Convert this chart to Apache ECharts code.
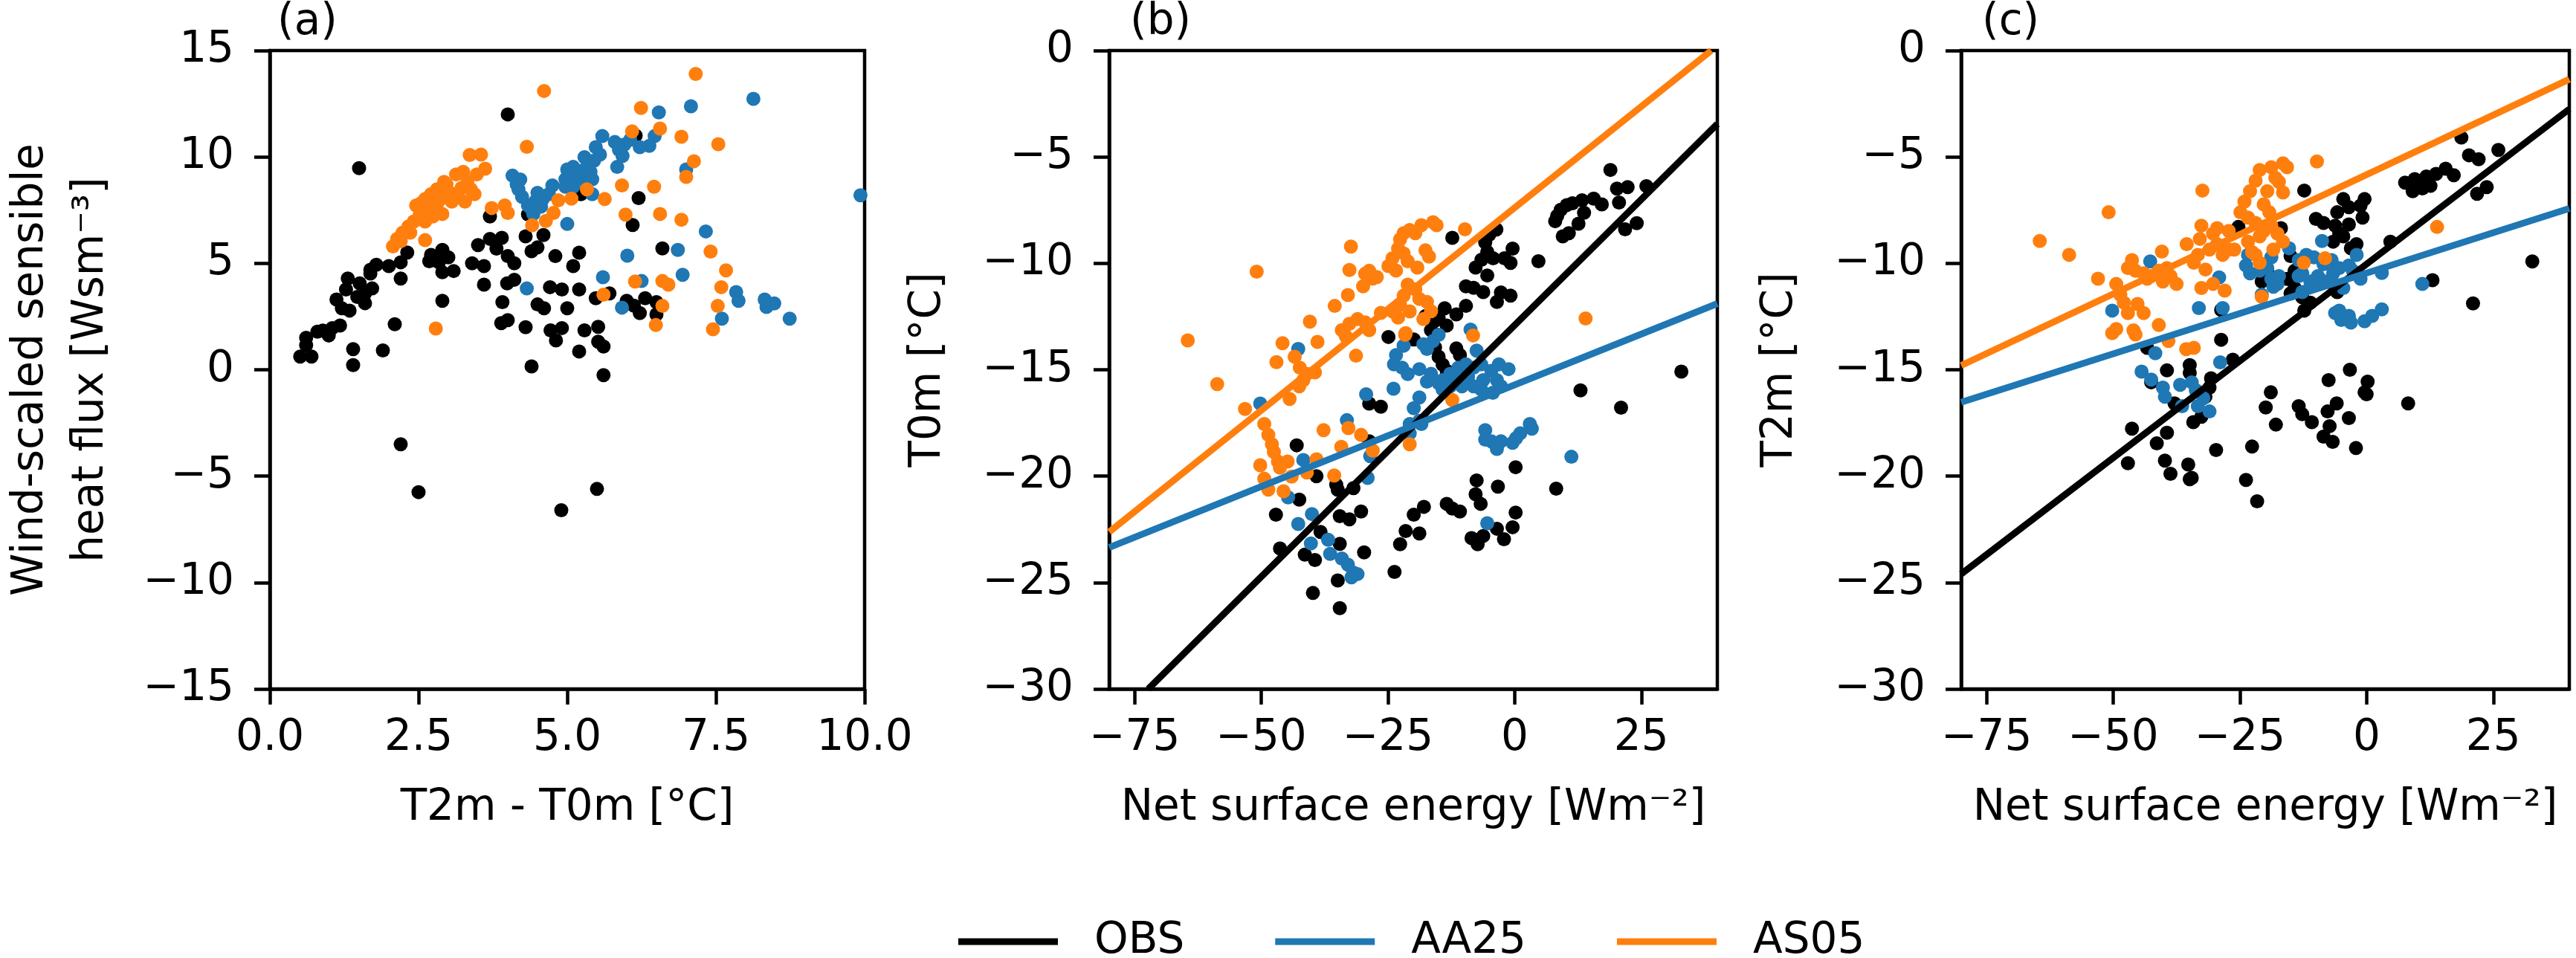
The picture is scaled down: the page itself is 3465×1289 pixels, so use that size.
<!DOCTYPE html>
<html>
<head>
<meta charset="utf-8">
<script src="https://cdn.jsdelivr.net/npm/echarts@6.0.0/dist/echarts.min.js"></script>
<style>
  html, body { margin: 0; padding: 0; background: #fff; }
  #vis { width: 3465px; height: 1289px; }
</style>
</head>
<body>
<div id="vis"></div>
<script>
// names and colours of the three data sets
const groups = ['OBS', 'AA25', 'AS05'];
const colors = ['#000000', '#1f77b4', '#ff7f0e'];

// panel (a): T2m - T0m vs wind-scaled sensible heat flux
const obsA = [
  [4.0,12.0],[1.5,9.47],[6.2,8.07],[6.1,6.8],[3.7,7.2],[4.34,7.3],[6.15,11.0],[5.23,8.25],[6.6,5.7],
  [4.3,6.27],[4.6,6.33],[3.5,5.86],[3.7,6.15],[3.9,6.2],[3.81,5.69],[4.4,5.57],[4.5,5.75],[4.8,5.34],[5.2,5.5],[5.1,4.87],[4.0,5.34],[4.11,5.0],[3.4,5.0],[3.6,4.87],
  [2.9,5.63],[2.71,5.4],[3.0,5.28],[2.84,5.05],[3.09,4.64],[2.9,4.58],[2.68,5.1],
  [2.31,5.51],[2.2,5.05],[2.2,4.29],[2.0,4.87],[1.79,4.93],[1.69,4.7],[1.69,4.52],
  [1.31,4.29],[1.51,4.06],[1.72,3.82],[1.6,3.59],[1.28,3.77],[1.47,3.42],[1.12,3.3],[1.21,2.89],[1.34,2.78],[1.6,3.13],
  [3.6,4.0],[3.99,4.06],[4.11,4.23],[4.71,3.88],[4.91,3.77],[5.2,3.77],[2.9,3.24],[3.91,3.18],[4.5,3.07],[4.61,2.89],[5.0,2.89],[5.48,3.36],[5.71,3.59],
  [6.0,3.24],[6.12,3.01],[6.22,2.66],[6.31,3.36],[6.5,3.18],[6.5,2.6],
  [2.1,2.14],[1.18,2.08],[1.05,1.96],[0.8,1.79],[0.99,1.61],[0.89,1.84],[3.89,2.19],[4.0,2.33],[4.3,2.0],[4.72,1.85],[4.91,1.96],[4.81,1.38],[5.29,1.85],[5.52,2.02],[5.52,1.32],[5.61,1.09],[5.2,0.86],
  [0.61,1.5],[0.61,1.15],[0.51,0.62],[0.7,0.62],[1.4,0.97],[1.4,0.22],[1.9,0.91],[4.4,0.16],[5.61,-0.25],
  [2.2,-3.5],[2.5,-5.75],[4.9,-6.6],[5.5,-5.6]
];
const aa25A = [
  [8.13,12.73],[7.08,12.38],[6.54,12.09],[9.93,8.2],[6.47,10.98],[5.59,10.98],[6.38,10.52],[6.22,10.46],[5.8,10.7],[5.96,10.58],[6.06,10.81],[5.87,10.34],[5.93,10.05],[5.84,9.53],
  [5.48,10.46],[5.55,10.11],[5.45,9.82],[5.36,9.64],[5.29,9.99],[5.39,9.3],[5.23,8.95],[5.29,9.41],[5.1,9.53],[5.0,9.41],[4.97,8.95],[5.1,8.6],[4.97,8.6],[5.17,9.18],[5.42,8.95],
  [4.75,8.66],[4.69,8.25],[4.59,8.02],[4.5,8.31],[4.46,7.9],[4.4,7.55],[4.34,7.72],[4.43,7.32],[4.24,8.13],[4.18,8.48],[4.15,8.71],[4.08,9.12],[4.21,8.94],[4.56,7.67],[5.42,8.25],
  [7.0,9.41],[5.0,6.85],[7.33,6.5],[6.86,5.63],[6.01,5.36],[6.94,4.46],[5.6,4.35],[6.25,4.17],[4.32,3.82],[7.84,3.65],[7.88,3.24],[8.32,3.3],[8.48,3.12],[8.35,2.95],[5.92,2.92],[7.6,2.4],[8.74,2.4]
];
const as05A = [
  [7.16,13.9],[4.61,13.1],[6.24,12.3],[6.56,11.33],[6.09,11.2],[6.92,10.95],[7.54,10.6],[4.32,10.48],[7.13,9.8],[7.0,9.06],[3.36,10.09],[3.55,10.11],[3.62,9.45],
  [5.33,8.48],[5.92,8.66],[6.46,8.6],[5.07,8.04],[5.63,8.02],[4.85,7.96],[4.77,7.37],[4.64,6.99],[4.41,6.79],[3.73,7.6],[3.95,7.72],[4.0,7.37],[5.98,7.29],[6.56,7.32],[6.92,7.05],
  [7.41,5.55],[7.67,4.67],[7.59,3.88],[7.53,3.0],[7.45,1.9],[6.14,4.15],[6.6,4.17],[6.7,4.0],[6.6,3.0],[5.61,3.53],[6.49,2.1],[2.79,1.94],[2.61,6.09],
  [2.07,5.8],[2.14,6.15],[2.23,6.44],[2.33,6.73],[2.42,6.97],[2.52,7.32],[2.46,7.72],[2.55,7.84],[2.68,7.55],[2.61,8.02],[2.71,8.25],[2.81,8.48],[2.87,8.02],[2.9,7.32],[2.97,8.71],[3.03,8.31],
  [3.13,9.18],[3.16,8.13],[3.22,8.54],[3.25,9.3],[3.32,8.83],[3.38,8.48],[3.44,8.25],[3.48,9.18],[3.28,7.9],[3.06,7.9],[2.74,7.2],[2.61,6.97],[2.81,7.78],[2.93,8.83],[2.36,6.44],[2.2,6.04]
];

// panel (b): net surface energy vs T0m
const obsB = [
  [18.9,-5.61],[26.0,-6.37],[22.3,-6.42],[20.2,-6.49],[20.6,-7.14],[17.2,-7.23],[15.6,-6.96],[13.3,-7.04],[11.4,-7.18],[10.3,-7.26],[9.1,-7.48],[8.4,-7.77],[8.0,-8.02],[12.6,-8.14],[13.7,-7.62],[10.7,-8.58],[9.5,-8.73],[24.1,-8.11],[21.8,-8.40],
  [-3.6,-8.41],[-5.0,-8.65],[-5.8,-9.02],[-5.4,-9.46],[-6.55,-9.83],[-4.25,-9.76],[-2.0,-9.76],[-0.4,-9.31],[-0.8,-9.98],[-7.7,-10.2],[-5.4,-10.57],[4.7,-9.9],[-12.3,-8.8],
  [-9.6,-11.08],[-8.1,-11.15],[-6.2,-11.35],[-2.7,-11.37],[-0.8,-11.52],[-3.5,-11.81],[-9.6,-12.0],[-11.5,-12.4],[-13.8,-12.11],[-15.0,-12.55],[-13.4,-12.92],[-16.5,-13.14],[-15.7,-12.7],[-17.6,-12.48],
  [32.9,-15.09],[13.0,-15.97],[21.0,-16.78],[-24.9,-13.46],[-19.9,-13.58],[-15.7,-13.95],[-15.0,-14.39],[-14.2,-14.76],[-11.5,-14.0],[-10.8,-14.31],[-13.4,-15.05],
  [-28.7,-16.59],[-26.4,-16.74],[-43.0,-18.55],[-28.7,-18.36],[-39.1,-20.0],[-35.2,-20.4],[-34.9,-20.64],[-31.8,-20.56],[0.2,-19.58],[-7.5,-20.2],[-3.3,-20.49],[8.2,-20.59],[-7.7,-20.85],[-6.7,-21.3],
  [-42.5,-21.1],[-47.1,-21.81],[-13.4,-21.3],[-12.3,-21.52],[-10.8,-21.66],[-17.9,-21.44],[-19.9,-21.81],[-30.3,-21.66],[-32.6,-22.03],[-34.5,-21.88],[0.2,-21.71],[-0.4,-22.4],[-3.5,-22.47],[-2.1,-22.96],
  [-6.2,-22.81],[-8.5,-22.91],[-7.3,-23.2],[-21.5,-22.58],[-18.8,-22.69],[-22.6,-23.2],[-38.3,-22.62],[-46.3,-23.4],[-41.4,-23.69],[-39.4,-23.94],[-34.5,-23.18],[-29.7,-23.58],[-23.7,-24.5],[-34.9,-24.9],[-39.8,-25.49],[-34.5,-26.2]
];
const aa25B = [
  [-42.7,-14.02],[-50.2,-16.59],[-8.7,-13.11],[-7.5,-14.1],
  [-21.9,-13.87],[-23.4,-14.31],[-23.8,-14.75],[-22.2,-14.9],[-21.1,-15.2],[-18.8,-14.97],[-17.3,-14.02],[-16.1,-13.65],[-15.0,-13.36],[-18.0,-13.8],[-16.5,-15.19],[-17.3,-15.56],[-18.8,-16.3],[-19.9,-16.81],[-18.8,-17.4],[-20.7,-17.99],
  [-23.9,-15.89],[-29.3,-16.15],
  [-14.2,-15.49],[-12.7,-15.19],[-11.1,-14.9],[-9.6,-14.75],[-8.1,-14.9],[-6.6,-14.75],[-4.6,-15.05],[-3.5,-15.49],[-2.7,-15.78],[-4.3,-16.08],[-6.6,-15.93],[-8.1,-15.78],[-10.4,-15.78],[-12.7,-15.78],[-14.2,-15.93],[-15.0,-15.63],[-3.1,-14.75],[-1.2,-14.97],[-6.2,-15.49],[-9.2,-15.34],[-11.5,-15.49],
  [-33.1,-17.37],[-20.7,-17.55],[-18.4,-17.55],
  [-5.8,-17.84],[-4.6,-18.36],[-3.5,-18.72],[-2.7,-18.36],[-5.8,-18.28],[-0.4,-18.43],[1.1,-17.99],[3.0,-17.55],[3.4,-17.77],[0.3,-18.21],
  [11.2,-19.09],[-28.5,-19.06],[-41.7,-19.24],[-29.0,-20.08],[-44.7,-21.0],[-40.0,-21.78],[-42.7,-22.25],[-5.4,-22.21],
  [-40.2,-23.16],[-36.8,-22.99],[-36.4,-23.65],[-34.1,-23.87],[-32.9,-24.16],[-31.8,-24.53],[-31.0,-24.6],[-32.2,-24.75]
];
const as05B = [
  [-64.5,-13.62],[-50.9,-10.39],[-58.7,-15.67],[-32.3,-9.21],[-32.6,-10.31],[-32.9,-11.49],[-35.5,-12.0],[-40.4,-12.74],[-38.9,-13.69],[-45.8,-13.75],[-47.0,-14.64],[-43.4,-14.39],
  [-42.4,-14.9],[-41.0,-15.19],[-39.4,-15.12],[-41.7,-15.49],[-42.5,-15.78],[-44.4,-16.37],[-53.2,-16.84],
  [-49.4,-17.55],[-48.6,-18.06],[-47.9,-18.5],[-47.5,-18.87],[-46.7,-19.31],[-46.3,-19.6],[-44.8,-19.31],[-50.2,-19.49],[-49.4,-20.12],[-48.6,-20.63],[-45.6,-20.71],[-44.0,-20.02],[-41.0,-19.83],[-39.1,-19.21],[-35.6,-19.97],
  [-37.7,-17.84],[-34.2,-18.62],[-32.8,-17.74],[-30.3,-18.06],[-28.0,-18.8],[-20.7,-18.5],[-31.3,-14.34],
  [-34.1,-13.14],[-32.6,-12.84],[-31.0,-12.62],[-29.5,-12.77],[-28.7,-13.14],[-33.3,-13.43],
  [-26.4,-12.33],[-24.1,-12.26],[-23.0,-12.55],[-22.6,-11.96],[-20.7,-12.26],[-21.5,-13.28],[-18.0,-12.62],[-17.3,-11.81],[-16.5,-12.25],[-18.8,-11.67],[-19.6,-11.22],[-21.1,-11.0],[-21.9,-11.52],
  [-29.9,-11.08],[-28.0,-10.71],[-28.7,-10.35],[-27.2,-10.64],[-29.5,-10.49],
  [-24.9,-10.13],[-23.4,-10.34],[-24.1,-9.76],[-23.0,-9.31],[-21.9,-9.53],[-21.1,-9.9],[-19.2,-10.2],[-22.6,-8.87],[-21.9,-8.58],[-20.7,-8.43],[-19.6,-8.58],[-18.4,-8.21],[-16.1,-8.07],[-15.4,-8.21],[-17.6,-9.39],[-16.9,-9.68],
  [-9.8,-8.4],[14.0,-12.59],[-21.6,-13.36],[-8.2,-13.39],[-12.3,-16.42]
];

// panel (c): net surface energy vs T2m
const obsC = [
  [18.7,-4.09],[26.0,-4.67],[20.2,-4.92],[22.1,-5.11],[15.6,-5.55],[17.2,-5.86],[13.7,-5.8],[11.8,-5.92],[9.5,-6.04],[7.6,-6.21],[9.1,-6.61],[11.0,-6.48],[12.6,-6.36],[23.7,-6.42],[21.8,-6.73],[-12.3,-6.58],
  [-4.6,-6.98],[-0.4,-6.98],[-1.2,-7.29],[-3.5,-7.36],[-5.8,-7.6],[-0.8,-7.85],[-3.5,-8.17],[-6.2,-8.23],[-8.5,-8.1],[-10.0,-7.91],[-5.4,-8.6],[-6.6,-8.98],[-2.0,-9.1],[-3.1,-9.29],[-4.6,-8.73],
  [-16.9,-8.35],[-25.3,-8.29],[4.7,-8.98],[-15.0,-9.66],[-14.2,-10.35],[-15.7,-10.73],[-14.2,-11.16],[-15.0,-11.41],[-12.3,-12.22],[-12.7,-11.6],[-11.1,-11.85],[-20.7,-10.85],[-19.6,-10.35],
  [32.7,-9.91],[13.0,-10.79],[21.0,-11.88],[-5.8,-11.35],[-28.7,-12.19],[-28.7,-13.59],[-26.4,-14.53],[-43.3,-13.97],[-34.9,-14.78],[-34.9,-15.15],[-39.4,-15.03],[-30.7,-15.4],[-42.5,-15.59],
  [-31.8,-16.27],[-31.0,-15.84],[-37.9,-16.58],[-34.2,-17.46],[-32.6,-17.21],[-46.3,-17.77],[-39.4,-17.96],[-41.4,-18.46],[-47.1,-19.39],[-39.8,-19.27],[-38.7,-19.89],[-35.2,-19.45],[-34.5,-20.08],[-34.9,-20.14],
  [-29.7,-18.77],[-22.6,-18.61],[-23.8,-20.18],[-21.6,-21.18],
  [-18.9,-16.06],[-19.9,-16.77],[-17.9,-17.58],[-13.4,-16.71],[-12.7,-17.09],[-10.8,-17.46],[-7.5,-15.49],[-3.3,-15.0],[0.2,-15.56],[-0.4,-16.06],[0.0,-16.15],[-5.9,-16.58],[-7.7,-16.96],[-3.5,-17.27],
  [-7.3,-17.65],[-8.5,-18.14],[-6.7,-18.39],[-2.1,-18.68],[8.2,-16.58]
];
const aa25C = [
  [-42.7,-9.91],[-50.2,-12.22],[-33.1,-12.1],[-28.4,-12.1],[-29.1,-10.66],[-8.8,-8.95],[-1.96,-9.6],[3.0,-10.45],[11.0,-10.97],
  [-23.4,-9.6],[-23.8,-10.1],[-23.0,-10.47],[-21.1,-10.35],[-19.6,-10.22],[-18.8,-10.73],[-17.3,-10.6],[-17.6,-10.97],[-18.4,-11.1],[-20.7,-11.47],[-15.3,-9.29],[-18.8,-9.72],
  [-13.4,-9.85],[-11.9,-9.6],[-10.4,-9.72],[-8.5,-10.04],[-6.9,-9.85],[-5.4,-10.22],[-3.5,-10.1],[-2.7,-10.35],[-1.2,-10.72],[-6.6,-10.47],[-8.1,-10.85],[-9.6,-10.6],[-11.1,-10.85],[-12.7,-10.47],
  [-13.4,-10.6],[-12.7,-11.35],[-11.1,-11.1],[-9.6,-10.97],[-6.6,-10.97],[-4.6,-11.16],
  [-6.2,-12.34],[-5.0,-12.66],[-3.1,-12.78],[-0.4,-12.72],[1.1,-12.47],[3.0,-12.16],[-5.4,-12.22],[-3.5,-12.47],
  [-41.7,-14.22],[-44.4,-15.09],[-42.5,-15.46],[-40.2,-15.84],[-39.8,-16.27],[-36.8,-15.71],[-34.5,-15.59],[-33.7,-15.96],[-32.2,-16.34],[-33.3,-16.71],[-36.4,-16.71],[-31.0,-16.96],[-28.9,-14.65]
];
const as05C = [
  [-64.5,-8.95],[-50.9,-7.6],[-58.7,-9.6],[-32.4,-6.58],[-9.8,-5.21],[-32.6,-8.23],[-32.9,-8.85],[-35.5,-9.1],[-40.4,-9.45],[-46.3,-9.85],
  [-47.1,-10.22],[-45.6,-10.35],[-44.0,-10.47],[-42.5,-10.6],[-41.0,-10.35],[-39.4,-10.22],[-38.7,-10.6],[-40.2,-10.85],[-43.3,-10.72],[-37.5,-10.97],[-53.0,-10.72],
  [-49.4,-10.97],[-48.6,-11.47],[-47.9,-11.85],[-47.1,-12.34],[-45.2,-11.91],[-44.0,-12.34],[-49.4,-13.09],[-50.2,-13.28],[-46.0,-13.15],[-45.6,-13.34],[-41.0,-12.9],
  [-39.1,-13.65],[-35.6,-14.03],[-34.1,-13.97],[-32.6,-11.16],[-30.3,-10.97],[-28.0,-11.28],
  [-34.1,-9.97],[-31.8,-10.29],[-33.3,-9.6],[-31.0,-9.35],[-29.5,-9.1],[-28.4,-9.6],[-27.2,-9.35],[-29.5,-8.35],[-27.2,-8.48],[-26.1,-9.35],[-30.3,-8.6],
  [-24.9,-7.6],[-23.4,-7.85],[-21.9,-8.1],[-24.1,-7.1],[-23.0,-6.61],[-21.9,-6.11],[-21.1,-5.61],[-18.8,-5.48],[-18.0,-5.98],[-16.5,-5.3],[-15.7,-5.48],[-17.3,-6.17],[-16.5,-6.67],[-19.6,-6.61],
  [-20.3,-7.23],[-19.2,-7.6],[-18.8,-8.23],[-20.3,-8.48],[-21.1,-8.73],[-17.6,-8.6],[-16.5,-8.98],[-23.4,-8.98],[-21.9,-9.6],[-21.1,-9.97],[-22.6,-9.47],
  [-18.4,-9.35],[-12.4,-9.97],[-8.2,-9.76],[-20.7,-11.57],[13.9,-8.29]
];

// fitted regression lines (end points)
const fitB = [
  [[-72.3,-30],[40,-3.45]],
  [[-80,-23.35],[40,-11.89]],
  [[-80,-22.62],[38.8,0]]
];
const fitC = [
  [[-80,-24.6],[40,-2.75]],
  [[-80,-16.53],[40,-7.42]],
  [[-80,-14.8],[40,-1.35]]
];

const energyTicks = [-75, -50, -25, 0, 25];
const panelLabels = ['(a)', '(b)', '(c)'];

const FONT = 'DejaVu Sans';
const FS = 58;
const LW = 9;      // regression / legend line width
const AW = 4.5;    // spine and tick width
const minus = v => String(v).replace('-', '\u2212');

const chart = echarts.init(document.getElementById('vis'), null, {renderer: 'canvas'});

const gridLefts = [345, 1492, 2638];
const grids = gridLefts.map(l => ({
  left: l, top: 68, width: 818, height: 859,
  show: true, borderColor: '#000', borderWidth: AW, backgroundColor: 'rgba(0,0,0,0)'
}));

const axisCommon = {
  axisLine: {show: true, onZero: false, lineStyle: {color: '#000', width: AW}},
  axisTick: {show: true, length: 21, lineStyle: {color: '#000', width: AW}},
  splitLine: {show: false},
  nameTextStyle: {fontFamily: FONT, fontSize: FS, color: '#000'}
};

function xAxisFor(i) {
  if (i === 0) {
    return Object.assign({}, axisCommon, {
      type: 'value', gridIndex: 0, min: 0, max: 10, interval: 2.5,
      name: 'T2m - T0m [°C]', nameLocation: 'middle', nameGap: 132,
      axisLabel: {fontFamily: FONT, fontSize: FS, color: '#000', margin: 38, formatter: v => v.toFixed(1)}
    });
  }
  return Object.assign({}, axisCommon, {
    type: 'value', gridIndex: i, min: -80, max: 40,
    name: 'Net surface energy [Wm\u207B\u00B2]', nameLocation: 'middle', nameGap: 132,
    axisTick: Object.assign({}, axisCommon.axisTick, {customValues: energyTicks}),
    axisLabel: {fontFamily: FONT, fontSize: FS, color: '#000', margin: 38, customValues: energyTicks, formatter: minus}
  });
}

function yAxisFor(i) {
  const names = ['Wind-scaled sensible\nheat flux [Wsm\u207B\u00B3]', 'T0m [°C]', 'T2m [°C]'];
  return Object.assign({}, axisCommon, {
    type: 'value', gridIndex: i,
    min: i === 0 ? -15 : -30, max: i === 0 ? 15 : 0, interval: 5,
    name: names[i], nameLocation: 'middle', nameGap: i === 0 ? 200 : 203,
    nameTextStyle: {fontFamily: FONT, fontSize: FS, color: '#000', lineHeight: 81},
    axisLabel: {fontFamily: FONT, fontSize: FS, color: '#000', margin: 48, formatter: minus}
  });
}

const scatterSets = [[obsA, aa25A, as05A], [obsB, aa25B, as05B], [obsC, aa25C, as05C]];
const series = [];
scatterSets.forEach((sets, p) => {
  sets.forEach((pts, g) => {
    series.push({
      type: 'scatter', name: groups[g], xAxisIndex: p, yAxisIndex: p,
      data: pts, symbolSize: 19, z: 2 + g,
      itemStyle: {color: colors[g], opacity: 1}
    });
  });
});
[[1, fitB], [2, fitC]].forEach(([p, fits]) => {
  fits.forEach((pts, g) => {
    series.push({
      type: 'line', name: groups[g], xAxisIndex: p, yAxisIndex: p,
      data: pts, symbol: 'none', z: 10, clip: true,
      lineStyle: {color: colors[g], width: LW}
    });
  });
});

chart.setOption({
  animation: false,
  backgroundColor: '#fff',
  grid: grids,
  xAxis: [0, 1, 2].map(xAxisFor),
  yAxis: [0, 1, 2].map(yAxisFor),
  legend: {
    left: 1284, top: 1233, orient: 'horizontal',
    itemWidth: 134, itemHeight: LW, itemGap: 122, icon: 'rect', selectedMode: false,
    textStyle: {fontFamily: FONT, fontSize: FS, color: '#000', padding: [0, 0, 0, 44]},
    data: groups.map((g, i) => ({name: g, itemStyle: {color: colors[i]}}))
  },
  graphic: panelLabels.map((t, i) => ({
    type: 'text', left: gridLefts[i] + 28, top: 2,
    style: {text: t, font: FS + 'px "' + FONT + '"', fill: '#000'}
  })),
  series: series
});
</script>
</body>
</html>
